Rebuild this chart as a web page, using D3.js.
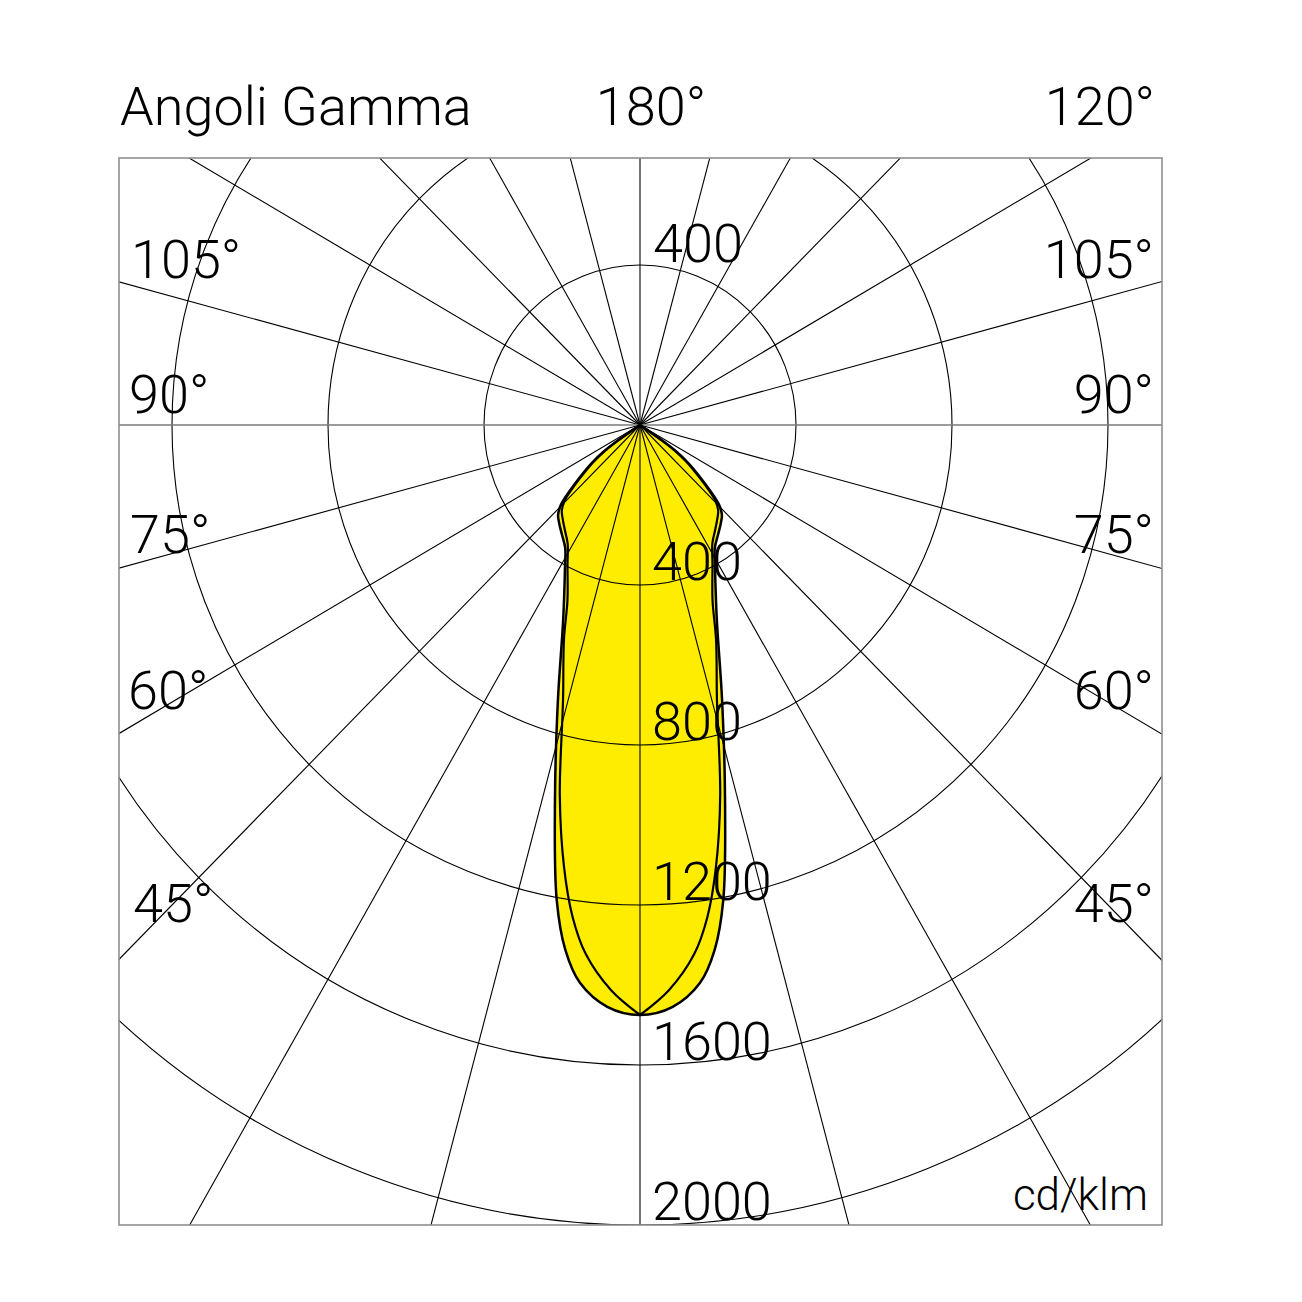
<!DOCTYPE html>
<html><head><meta charset="utf-8">
<script src="https://cdn.jsdelivr.net/npm/d3@7"></script>
<style>
html,body{margin:0;padding:0;background:#fff;}
text{font-family:Roboto,'Liberation Sans',sans-serif;font-weight:300;fill:#000;}
</style>
</head><body>
<svg id="chart" width="1302" height="1302"></svg>
<script>
// ---------- data ----------
const title = "Angoli Gamma";
const topCenterLabel = "180°";
const topRightLabel = "120°";
const sideAngleLabels = ["105°", "90°", "75°", "60°", "45°"];
const radialTicks = [400, 800, 1200, 1600, 2000];
const upperTick = 400;
const unitLabel = "cd/klm";
const gridAngles = d3.range(0, 360, 15);

// C0-180 plane (wide curve with shoulders): gamma (deg from nadir), intensity (cd/klm)
const gammaC0 =     [0,    3.3,  6.3,  8.3,  10.2, 13.1, 17,  22,  28,  32,  36,  40,  43,  45.5, 47.5, 50,  52.5, 54.5, 55.5, 57];
const intensityC0 = [1475, 1457, 1403, 1326, 1206, 962,  720, 526, 410, 362, 340, 322, 308, 284,  246,  198, 156,  115,  75,   0];
// C90-270 plane (narrow pointed curve)
const gammaC90 =     [0,    3,    6,    8,    10,   12.5, 16,  20,  23,  28,  32,  36,  40,  43,  45.5, 47.5, 50,  52.5, 54.5, 55.5, 57];
const intensityC90 = [1475, 1415, 1330, 1242, 1122, 950,  716, 570, 476, 396, 350, 327, 308, 294, 272,  236,  188, 146,  106,  68,   0];

// ---------- layout ----------
const cx = 640, cy = 425;
const box = {x0: 119, y0: 158, x1: 1162, y1: 1225};
const kx = 0.975;
const r = d3.scaleLinear().domain([0, 2000]).range([0, 800]);
const rad = d3.scaleLinear().domain([0, 180]).range([0, Math.PI]);
function pt(g, I) { const a = rad(g); return [cx + kx * r(I) * Math.sin(a), cy + r(I) * Math.cos(a)]; }

const svg = d3.select("#chart");
svg.append("rect").attr("width", 1302).attr("height", 1302).attr("fill", "#fff");
svg.append("defs").append("clipPath").attr("id", "clipBox")
  .append("rect").attr("x", box.x0).attr("y", box.y0)
  .attr("width", box.x1 - box.x0).attr("height", box.y1 - box.y0);

const yellow = "#FFED00";
const smooth = d3.line().curve(d3.curveCatmullRom.alpha(0.5));

// outer (C0) closed loop, smooth at nadir
const c0Right = gammaC0.map((g, i) => pt(g, intensityC0[i]));
const c0Left = gammaC0.map((g, i) => pt(-g, intensityC0[i]));
const c0Path = smooth(c0Left.slice().reverse().concat(c0Right.slice(1))) + "Z";

// inner (C90) two halves, cusp at nadir
const c90Right = gammaC90.map((g, i) => pt(g, intensityC90[i]));
const c90Left = gammaC90.map((g, i) => pt(-g, intensityC90[i]));
const c90Path = smooth(c90Right) + smooth(c90Left);

// fills
const fillG = svg.append("g");
fillG.append("path").attr("d", c0Path).attr("fill", yellow);
fillG.append("path").attr("d", c90Path).attr("fill", yellow);

// grid
const grid = svg.append("g").attr("clip-path", "url(#clipBox)");
grid.selectAll("ellipse.ring").data(radialTicks).enter().append("ellipse")
  .attr("class", "ring")
  .attr("cx", cx).attr("cy", cy)
  .attr("rx", d => kx * r(d)).attr("ry", d => r(d))
  .attr("fill", "none").attr("stroke", "#000").attr("stroke-width", 1.1);
grid.selectAll("line.ray").data(gridAngles.filter(a => a % 180 !== 90)).enter().append("line")
  .attr("class", "ray")
  .attr("x1", cx).attr("y1", cy)
  .attr("x2", d => pt(d, 4000)[0]).attr("y2", d => pt(d, 4000)[1])
  .attr("stroke", "#000").attr("stroke-width", 1.1);
grid.append("line")
  .attr("x1", box.x0).attr("x2", box.x1).attr("y1", cy).attr("y2", cy)
  .attr("stroke", "#7a7a7a").attr("stroke-width", 1.4);

// curve outlines
const lineG = svg.append("g");
lineG.append("path").attr("d", c0Path).attr("fill", "none").attr("stroke", "#000").attr("stroke-width", 2.5).attr("stroke-linejoin", "round");
lineG.append("path").attr("d", c90Path).attr("fill", "none").attr("stroke", "#000").attr("stroke-width", 2.2).attr("stroke-linejoin", "round");

// box
svg.append("rect").attr("x", box.x0).attr("y", box.y0)
  .attr("width", box.x1 - box.x0).attr("height", box.y1 - box.y0)
  .attr("fill", "none").attr("stroke", "#8f8f8f").attr("stroke-width", 1.6);

// text
const T = svg.append("g");
const fs = 54;
T.append("text").attr("x", 120).attr("y", 125).attr("font-size", fs).text(title);
T.append("text").attr("x", 651).attr("y", 125).attr("font-size", fs).attr("text-anchor", "middle").text(topCenterLabel);
T.append("text").attr("x", 1155).attr("y", 125).attr("font-size", fs).attr("text-anchor", "end").text(topRightLabel);

const sideY = [278, 413, 553, 709, 922];
const leftX = [131, 129, 130, 128, 133];
sideAngleLabels.forEach((lab, i) => {
  T.append("text").attr("x", leftX[i]).attr("y", sideY[i]).attr("font-size", fs).text(lab);
  T.append("text").attr("x", 1154).attr("y", sideY[i]).attr("font-size", fs).attr("text-anchor", "end").text(lab);
});

T.append("text").attr("x", 653).attr("y", cy - r(upperTick) - 3).attr("font-size", fs).text(upperTick);
radialTicks.forEach(v => {
  T.append("text").attr("x", 652).attr("y", cy + r(v) - 5).attr("font-size", fs).text(v);
});
T.append("text").attr("x", 1148).attr("y", 1210).attr("font-size", 44).attr("text-anchor", "end").text(unitLabel);
</script>
</body></html>
